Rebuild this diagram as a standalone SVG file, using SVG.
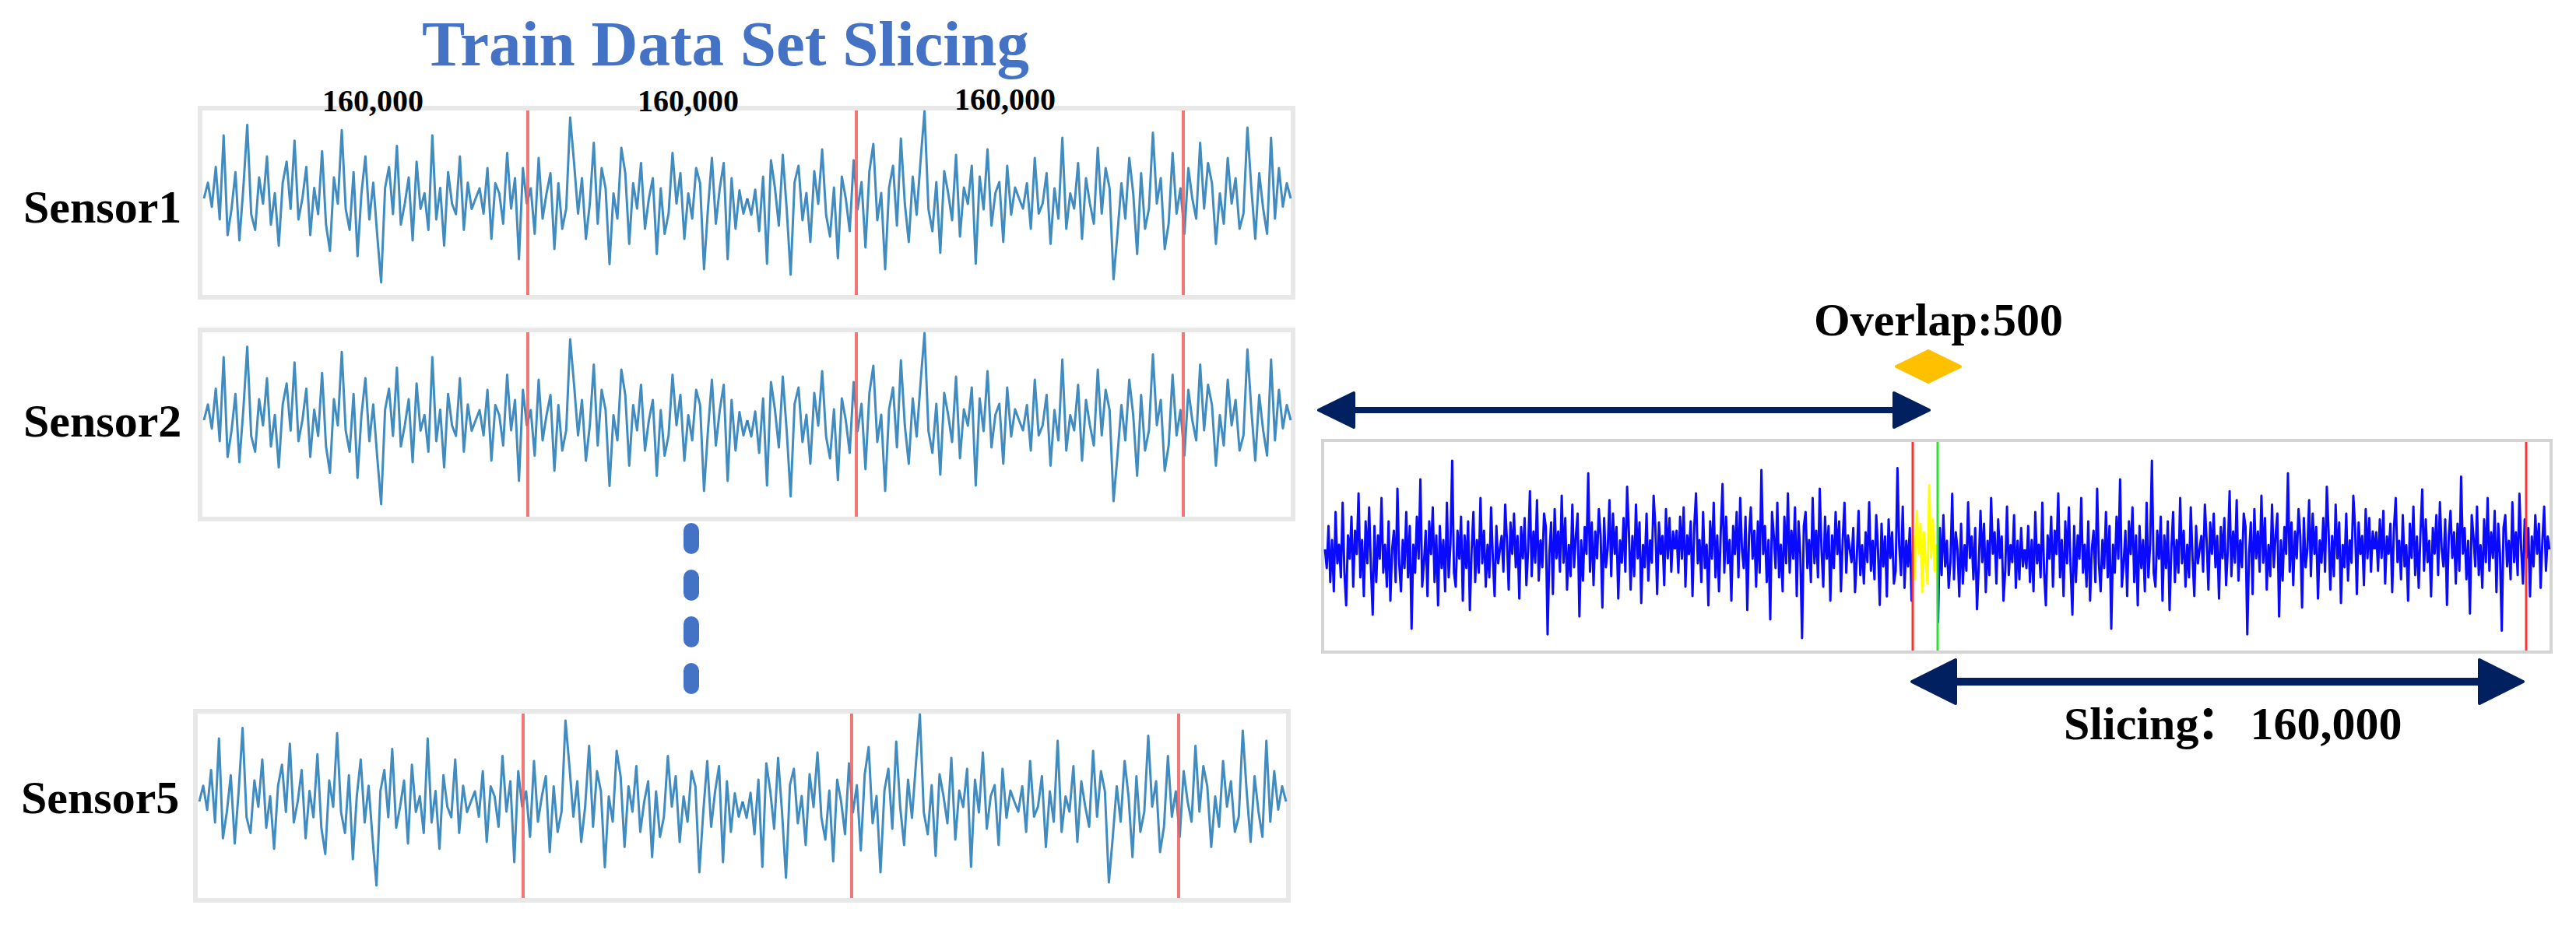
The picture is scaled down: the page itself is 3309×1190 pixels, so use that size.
<svg xmlns="http://www.w3.org/2000/svg" xmlns:xlink="http://www.w3.org/1999/xlink" width="3309" height="1190" viewBox="0 0 3309 1190">
<style>
.lbl{font-family:"Liberation Serif","Times New Roman","Noto Sans CJK SC",serif;font-weight:bold;fill:#000}
.title{font-family:"Liberation Serif","Times New Roman",serif;font-weight:bold;fill:#4472C4;font-size:83px}
.sigL{fill:none;stroke:#1f77b4;stroke-width:3;stroke-opacity:.85}
.sigR{fill:none;stroke:#0a0aff;stroke-width:3}
.sigY{fill:none;stroke:#ffff00;stroke-width:3}
.frameL{fill:#fff;stroke:#e8e8e8;stroke-width:6}
.frameR{fill:#fff;stroke:#d4d4d4;stroke-width:4}
.cutL{stroke:#f06060;stroke-width:4;stroke-opacity:.85}
.cutR{stroke:#ff3030;stroke-width:3}
.cutG{stroke:#30e030;stroke-width:3}
.arrow{fill:#002060;stroke:#002060;stroke-linejoin:round;stroke-width:4}
.shaft{stroke:#002060}
</style>
<defs>
<polyline id="chL" fill="none" stroke-linejoin="round" vector-effect="non-scaling-stroke" points="0,0 5,-15 10,8 15,-30 20,20 25,-60 30,35 35,10 40,-25 45,40 50,-10 55,-70 60,15 65,30 70,-20 75,5 80,-40 85,25 90,-5 95,45 100,-15 105,-35 110,10 115,-55 120,20 125,0 130,-30 135,35 140,-10 145,15 150,-45 155,25 160,50 165,-20 170,5 175,-65 180,10 185,30 190,-25 195,55 200,-5 205,-40 210,20 215,-15 220,35 225,80 230,-10 235,-30 240,15 245,-50 250,25 255,5 260,-20 265,40 270,-35 275,10 280,-5 285,30 290,-60 295,20 300,-10 305,45 310,-25 315,5 320,15 325,-40 330,30 335,-15 340,10 345,0"/>
<polyline id="chR" fill="none" stroke-linejoin="round" vector-effect="non-scaling-stroke" points="0,0 2.5,20 5,-25 7.5,35 10,-10 12.5,45 15,-40 17.5,15 20,-5 22.5,30 25,-50 27.5,25 30,60 32.5,-15 35,10 37.5,-35 40,40 42.5,-20 45,5 47.5,-60 50,30 52.5,-10 55,50 57.5,-30 60,15 62.5,-45 65,20 67.5,70 70,-25 72.5,35 75,-15 77.5,10 80,-55 82.5,25 85,-5 87.5,40 90,-30 92.5,55 95,0 97.5,-20 100,35 102.5,-65 105,15 107.5,45 110,-10 112.5,20 115,-40 117.5,30 120,-25 122.5,85 125,-5 127.5,25 130,-35 132.5,10 135,-75 137.5,40 140,15 142.5,-20 145,50 147.5,-30 150,5 152.5,-45 155,35 157.5,-15 160,60 162.5,-25 165,20 167.5,-10 170,45 172.5,-50 175,30 177.5,-5 180,-95 182.5,25 185,40 187.5,-20 190,10 192.5,-35 195,55 197.5,-15 200,20 202.5,-30 205,65 207.5,0 210,-40 212.5,35 215,-10 217.5,25 220,-55 222.5,15 225,-20 227.5,40 230,-5 232.5,30 235,-45 237.5,10 240,50 242.5,-25 245,15 247.5,0"/>
<g id="panelL">
<rect class="frameL" x="257" y="139" width="1404" height="243"/>
<g class="sigL">
<use xlink:href="#chL" transform="translate(262,255) scale(1.0116,1.35)"/>
<use xlink:href="#chL" transform="translate(960,255) scale(-1.0116,-1.3)"/>
<use xlink:href="#chL" transform="translate(960,255) scale(1.0116,-1.4)"/>
<use xlink:href="#chL" transform="translate(1658,255) scale(-1.0116,1.3)"/>
</g>
<line class="cutL" x1="678" y1="142" x2="678" y2="379"/>
<line class="cutL" x1="1100" y1="142" x2="1100" y2="379"/>
<line class="cutL" x1="1520" y1="142" x2="1520" y2="379"/>
</g>
<clipPath id="clipBlue" clipPathUnits="userSpaceOnUse">
<rect x="1690" y="560" width="768" height="290"/>
<rect x="2489" y="560" width="800" height="290"/>
</clipPath>
<clipPath id="clipYellow" clipPathUnits="userSpaceOnUse">
<rect x="2458" y="560" width="31" height="290"/>
</clipPath>
<g id="sigRight">
<use xlink:href="#chR" transform="translate(1702,706) scale(0.908,1.2)"/>
<use xlink:href="#chR" transform="translate(2151.4,706) scale(-0.908,-1.15)"/>
<use xlink:href="#chR" transform="translate(2151.4,706) scale(0.908,-1.2)"/>
<use xlink:href="#chR" transform="translate(2600.8,706) scale(-0.908,1.1)"/>
<use xlink:href="#chR" transform="translate(2600.8,706) scale(0.908,1.2)"/>
<use xlink:href="#chR" transform="translate(3050.2,706) scale(-0.908,-1.15)"/>
<use xlink:href="#chR" transform="translate(3050.2,706) scale(0.908,-1.1)"/>
</g>
</defs>
<rect width="3309" height="1190" fill="#fff"/>
<g id="title">
<text class="title" x="932" y="84" text-anchor="middle">Train Data Set Slicing</text>
</g>
<g id="sensor1">
<use xlink:href="#panelL"/>
<text class="lbl" x="30" y="286" font-size="60">Sensor1</text>
<text class="lbl" x="479" y="143" font-size="40" text-anchor="middle">160,000</text>
<text class="lbl" x="884" y="143" font-size="40" text-anchor="middle">160,000</text>
<text class="lbl" x="1291" y="141" font-size="40" text-anchor="middle">160,000</text>
</g>
<g id="sensor2">
<use xlink:href="#panelL" transform="translate(0,285)"/>
<text class="lbl" x="30" y="561" font-size="60">Sensor2</text>
</g>
<g id="ellipsis">
<line x1="888" y1="682" x2="888" y2="892" stroke="#4472C4" stroke-width="20" stroke-linecap="round" stroke-dasharray="20 40"/>
</g>
<g id="sensor5">
<use xlink:href="#panelL" transform="translate(-6,775)"/>
<text class="lbl" x="27" y="1045" font-size="60">Sensor5</text>
</g>
<g id="slicePanel">
<rect class="frameR" x="1699" y="566" width="1578" height="272"/>
<g class="sigR" clip-path="url(#clipBlue)"><use xlink:href="#sigRight"/></g>
<g class="sigY" clip-path="url(#clipYellow)"><use xlink:href="#sigRight"/></g>
<line class="cutR" x1="2457" y1="568" x2="2457" y2="836"/>
<line class="cutG" x1="2489" y1="568" x2="2489" y2="836"/>
<line class="cutR" x1="3245" y1="568" x2="3245" y2="836"/>
</g>
<g id="overlap">
<text class="lbl" x="2490" y="431" font-size="60" text-anchor="middle">Overlap:500</text>
<polygon points="2436,471 2477,451 2518,471 2477,491" fill="#FFC000" stroke="#FFC000" stroke-width="4" stroke-linejoin="round"/>
</g>
<g id="slicing-label">
<text class="lbl" x="2651" y="950" font-size="60">Slicing<tspan dx="-3">：</tspan><tspan dx="9">160,000</tspan></text>
</g>
<g id="connectors">
<line class="shaft" x1="1730" y1="527" x2="2440" y2="527" stroke-width="8"/>
<polygon class="arrow" points="1694,527 1739,505 1739,549"/>
<polygon class="arrow" points="2478,527 2433,505 2433,549"/>
<line class="shaft" x1="2500" y1="876" x2="3195" y2="876" stroke-width="10"/>
<polygon class="arrow" points="2456,876 2512,848 2512,904"/>
<polygon class="arrow" points="3241,876 3185,848 3185,904"/>
</g>
</svg>
